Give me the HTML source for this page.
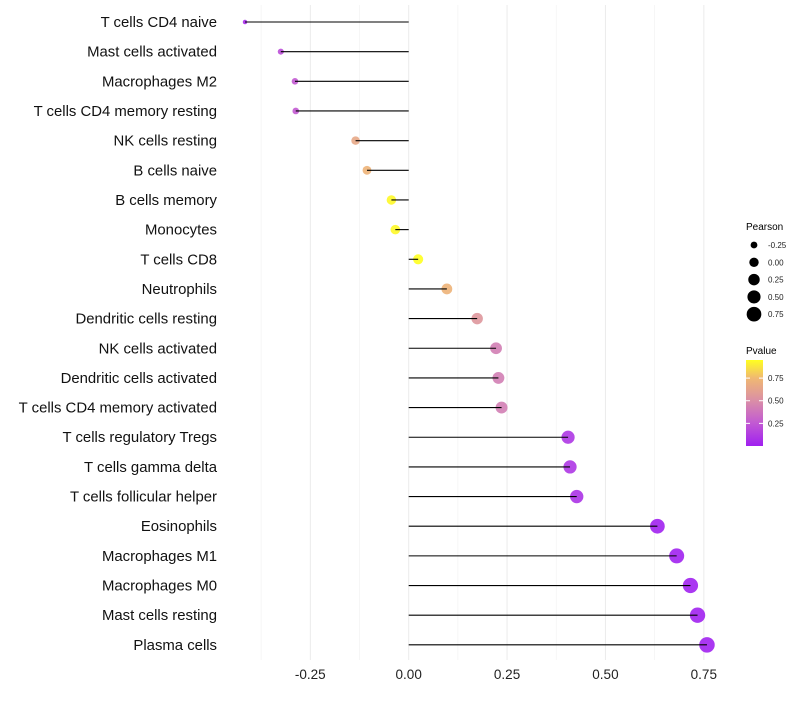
<!DOCTYPE html>
<html><head><meta charset="utf-8"><style>
body{margin:0;background:#fff;font-family:"Liberation Sans",sans-serif}
</style></head><body>
<svg id="c" width="800" height="700" xmlns="http://www.w3.org/2000/svg">
<defs><linearGradient id="pg" x1="0" y1="1" x2="0" y2="0">
<stop offset="0" stop-color="#a020f0"/><stop offset="0.27" stop-color="#c25ad2"/><stop offset="0.53" stop-color="#da8fa6"/><stop offset="0.79" stop-color="#f0b872"/><stop offset="1" stop-color="#ffff20"/></linearGradient></defs>
<g id="grid"></g><g id="marks"></g><g id="stems"></g><g id="labels"></g>
<g font-size="10">
<text x="746" y="230">Pearson</text>
<g id="sizeleg"></g>
<text x="746" y="354">Pvalue</text>
<rect x="746" y="360" width="17" height="86" fill="url(#pg)"/>
<g id="colleg"></g>
</g>
</svg>
<script>
const categories=["T cells CD4 naive","Mast cells activated","Macrophages M2","T cells CD4 memory resting","NK cells resting","B cells naive","B cells memory","Monocytes","T cells CD8","Neutrophils","Dendritic cells resting","NK cells activated","Dendritic cells activated","T cells CD4 memory activated","T cells regulatory  Tregs ","T cells gamma delta","T cells follicular helper","Eosinophils","Macrophages M1","Macrophages M0","Mast cells resting","Plasma cells"];
const pearson=[-0.416,-0.325,-0.289,-0.287,-0.135,-0.106,-0.044,-0.034,0.024,0.097,0.174,0.222,0.228,0.236,0.405,0.41,0.427,0.632,0.681,0.716,0.734,0.758];
const pvalue=[0.05,0.2,0.25,0.25,0.65,0.72,0.93,0.93,0.97,0.72,0.55,0.42,0.42,0.42,0.1,0.1,0.08,0.01,0.01,0.01,0.01,0.01];
const xTicks=[-0.25,0,0.25,0.5,0.75];
const xTickLabels=["-0.25","0.00","0.25","0.50","0.75"];
const sizeBreaks=[-0.25,0,0.25,0.5,0.75];
const colorBreaks=[0.25,0.5,0.75];
const NS="http://www.w3.org/2000/svg";
const x0=408.7,k=393.5;
const xs=v=>x0+v*k;
const ys=i=>22+i*29.66;
const pmin=-0.416,pmax=0.758;
const rs=v=>Math.sqrt(5+(v-pmin)/(pmax-pmin)*55);
const stops=[[0,[160,32,240]],[0.25,[194,90,210]],[0.5,[218,143,166]],[0.75,[240,184,114]],[0.95,[255,255,32]]];
function col(p){p=Math.max(0,Math.min(0.95,p));for(let i=1;i<stops.length;i++){if(p<=stops[i][0]){const a=stops[i-1],b=stops[i],t=(p-a[0])/(b[0]-a[0]);return 'rgb('+a[1].map((c,j)=>Math.round(c+(b[1][j]-c)*t)).join(',')+')';}}}
const py=v=>446-v/0.95*86;
function mk(t,a,p){const e=document.createElementNS(NS,t);for(const q in a)e.setAttribute(q,a[q]);(p||document.getElementById('marks')).appendChild(e);return e;}
const grid=document.getElementById('grid');
for(let v=-0.375;v<=0.8;v+=0.125){
 const major=Math.abs((v/0.25)%1)<1e-6;
 const g=mk('line',{x1:xs(v),x2:xs(v),y1:5,y2:660,stroke:major?'#ebebeb':'#f3f3f3','stroke-width':major?1:0.7},grid);
 
 
}
const lab=document.getElementById('labels');
const stems=document.getElementById('stems');
xTicks.forEach((v,i)=>{
 const t=mk('text',{x:xs(v),y:679,'text-anchor':'middle','font-size':13.5,fill:'#222'},lab);t.textContent=xTickLabels[i];
 
 
});
categories.forEach((c,i)=>{
 const y=ys(i);
 const t=mk('text',{x:217,y:y+5,'text-anchor':'end','font-size':14.9,fill:'#111'},lab);t.textContent=c;
 
 
 const d=mk('circle',{cx:xs(pearson[i]),cy:y,r:rs(pearson[i]),fill:col(pvalue[i]),'fill-opacity':0.9});
 
 
 const l=mk('line',{x1:xs(0),x2:xs(pearson[i]),y1:y,y2:y,stroke:'#000','stroke-width':1.1},stems);
 
 
});
const sl=document.getElementById('sizeleg');
sizeBreaks.forEach((v,i)=>{
 const y=245+i*17.3;
 const c=mk('circle',{cx:754,cy:y,r:rs(v)*0.95,fill:'#000'},sl);
 
 
 const t=mk('text',{x:768,y:y+3,'font-size':8,fill:'#222'},sl);t.textContent=v.toFixed(2);
 
 
});
const cl=document.getElementById('colleg');
colorBreaks.forEach(v=>{
 const y=py(v);
 mk('line',{x1:746,x2:750,y1:y,y2:y,stroke:'#fff'},cl);mk('line',{x1:759,x2:763,y1:y,y2:y,stroke:'#fff'},cl);
 const t=mk('text',{x:768,y:y+3,'font-size':8,fill:'#222'},cl);t.textContent=v.toFixed(2);
 
 
});
</script>
</body></html>
